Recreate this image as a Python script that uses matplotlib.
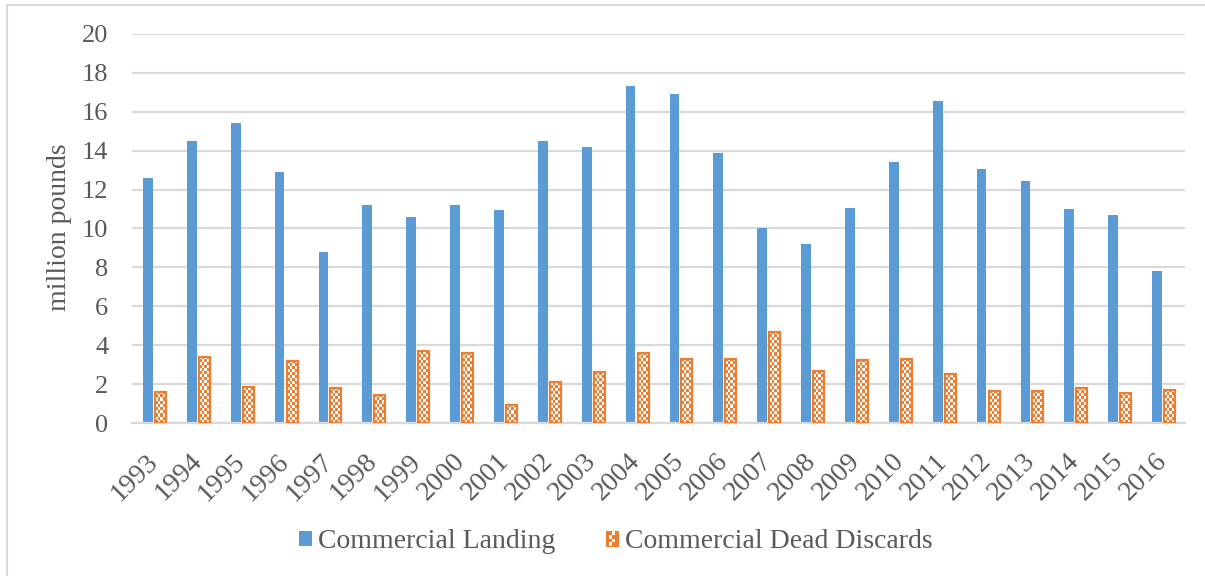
import numpy as np
import matplotlib
matplotlib.use("Agg")
import matplotlib.pyplot as plt
from matplotlib.patches import Rectangle, Patch
from matplotlib.colors import ListedColormap
from matplotlib.legend_handler import HandlerBase

years = [str(y) for y in range(1993, 2017)]
landing = [12.6, 14.5, 15.4, 12.9, 8.8, 11.2, 10.6, 11.2, 10.95, 14.5,
           14.2, 17.35, 16.9, 13.9, 10.0, 9.2, 11.05, 13.4, 16.55, 13.05,
           12.45, 11.0, 10.7, 7.8]
discards = [1.6, 3.4, 1.85, 3.2, 1.8, 1.45, 3.7, 3.6, 0.95, 2.1,
            2.6, 3.6, 3.3, 3.3, 4.7, 2.65, 3.25, 3.3, 2.5, 1.65,
            1.65, 1.8, 1.55, 1.7]
yticks = [0, 2, 4, 6, 8, 10, 12, 14, 16, 18, 20]

BLUE = "#5B9BD5"
ORANGE = "#ED7D31"
GRID = "#D9D9D9"
TEXT = "#595959"
FONT = "Liberation Serif"

plt.rcParams["font.family"] = [FONT, "DejaVu Serif"]

W, H = 1205, 576
fig = plt.figure(figsize=(W / 100, H / 100), dpi=100)
ax = fig.add_axes([132 / W, 1 - 423 / H, (1185 - 132) / W, 389 / H])

x = np.arange(len(years))
bw_blue, bw_orange = 0.22, 0.25
off_blue, off_orange = -0.137, 0.148

ax.set_xlim(-0.5, len(years) - 0.5)
ax.set_ylim(0, 20)

ax.bar(x + off_blue, landing, width=bw_blue, color=BLUE, zorder=2)
bars = ax.bar(x + off_orange, discards, width=bw_orange, color=ORANGE,
              edgecolor=ORANGE, linewidth=1.4, zorder=2)

# checkerboard fill inside each discard bar (about 3 px cells)
px_per_x = ax.get_window_extent().width / (len(years))
px_per_y = ax.get_window_extent().height / 20.0
checker_cmap = ListedColormap([ORANGE, "white"])
for rect in bars:
    x0, w, h = rect.get_x(), rect.get_width(), rect.get_height()
    ncols = max(2, int(round(w * px_per_x / 3.0)))
    nrows = max(2, int(round(h * px_per_y / 3.0)))
    ii, jj = np.indices((nrows, ncols))
    pattern = ((ii + jj) % 2).astype(float)
    img = ax.imshow(pattern, cmap=checker_cmap, vmin=0, vmax=1,
                    extent=(x0, x0 + w, 0, h), origin="lower",
                    interpolation="nearest", aspect="auto", zorder=2.5)
    img.set_clip_path(rect)
ax.bar(x + off_orange, discards, width=bw_orange, fill=False,
       edgecolor=ORANGE, linewidth=1.6, zorder=3)

ax.set_xlim(-0.5, len(years) - 0.5)
ax.set_ylim(0, 20)
ax.set_yticks(yticks)
ax.yaxis.grid(True, color=GRID, linewidth=1.6)
ax.set_axisbelow(True)
for side in ("top", "right", "left"):
    ax.spines[side].set_visible(False)
ax.spines["bottom"].set_color(GRID)
ax.spines["bottom"].set_linewidth(1.6)

ax.tick_params(axis="y", length=0, pad=17, labelsize=19, labelcolor=TEXT)
ax.tick_params(axis="x", length=0, pad=25, labelsize=20, labelcolor=TEXT)
ax.set_xticks(x)
ax.set_xticklabels(years, rotation=45, ha="right", va="center",
                   rotation_mode="anchor")

ax.set_ylabel("million pounds", fontsize=20, color=TEXT)
ax.yaxis.set_label_coords(-0.057, 0.504)


class CheckerHandler(HandlerBase):
    """Legend key drawn as an orange square with a white checkerboard."""

    def create_artists(self, legend, orig_handle, xdescent, ydescent,
                       width, height, fontsize, trans):
        artists = [Rectangle((-xdescent, -ydescent), width, height,
                             facecolor=ORANGE, edgecolor=ORANGE,
                             linewidth=0.8, transform=trans)]
        n = 4
        cw, ch = width / n, height / n
        for i in range(n):
            for j in range(1, n - 1):
                if (i + j) % 2:
                    artists.append(Rectangle((-xdescent + j * cw, -ydescent + i * ch),
                                             cw, ch, facecolor="white",
                                             edgecolor="none", transform=trans))
        return artists


h_land = Patch(facecolor=BLUE, edgecolor="none")
h_disc = Patch(facecolor=ORANGE, edgecolor="none")
fig.legend([h_land, h_disc], ["Commercial Landing", "Commercial Dead Discards"],
           loc="center", bbox_to_anchor=(616 / W, 1 - 542 / H), ncol=2,
           frameon=False, fontsize=20, labelcolor=TEXT,
           handlelength=0.45, handleheight=0.45, handletextpad=0.25,
           columnspacing=1.8, handler_map={h_disc: CheckerHandler()})

# outer chart frame
fig.patches.append(Rectangle((7 / W, -0.05), 1.2, (H - 5) / H + 0.05,
                             transform=fig.transFigure, fill=False,
                             edgecolor=GRID, linewidth=1.5))

fig.savefig("out.png", dpi=100, facecolor="white")
